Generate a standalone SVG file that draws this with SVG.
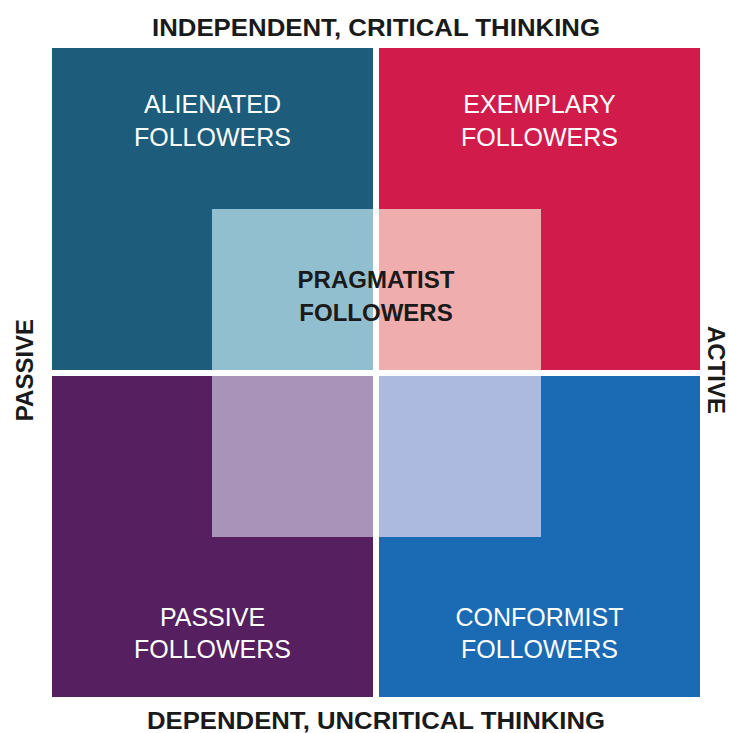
<svg xmlns="http://www.w3.org/2000/svg" width="729" height="733" viewBox="0 0 729 733">
<style>
.q{font-family:"Liberation Sans",Arial,sans-serif;font-size:25px;fill:#ffffff;text-anchor:middle}
.c{font-family:"Liberation Sans",Arial,sans-serif;font-size:24px;font-weight:bold;fill:#1a1a1a;text-anchor:middle}
.ax{font-family:"Liberation Sans",Arial,sans-serif;font-size:24px;font-weight:bold;fill:#1a1a1a;text-anchor:middle}
</style>
<rect width="729" height="733" fill="#ffffff"/>
<g id="alienated">
<rect x="52" y="48" width="321" height="322" fill="#1d5d7b"/>
<text class="q" x="212.5" y="113">ALIENATED</text>
<text class="q" x="212.5" y="146">FOLLOWERS</text>
</g>
<g id="exemplary">
<rect x="379" y="48" width="321" height="322" fill="#d11c4b"/>
<text class="q" x="539.5" y="113">EXEMPLARY</text>
<text class="q" x="539.5" y="146">FOLLOWERS</text>
</g>
<g id="passive">
<rect x="52" y="376" width="321" height="321" fill="#561f5f"/>
<text class="q" x="212.5" y="626">PASSIVE</text>
<text class="q" x="212.5" y="658">FOLLOWERS</text>
</g>
<g id="conformist">
<rect x="379" y="376" width="321" height="321" fill="#1b6ab4"/>
<text class="q" x="539.5" y="626">CONFORMIST</text>
<text class="q" x="539.5" y="658">FOLLOWERS</text>
</g>
<g id="pragmatist">
<rect x="212" y="209" width="161" height="161" fill="#92bfcf"/>
<rect x="379" y="209" width="162" height="161" fill="#efadad"/>
<rect x="212" y="376" width="161" height="161" fill="#a993b9"/>
<rect x="379" y="376" width="162" height="161" fill="#acbadf"/>
<text class="c" x="376" y="288">PRAGMATIST</text>
<text class="c" x="376" y="321">FOLLOWERS</text>
</g>
<g id="axes">
<text class="ax" x="376" y="36" textLength="448" lengthAdjust="spacingAndGlyphs">INDEPENDENT, CRITICAL THINKING</text>
<text class="ax" x="376" y="729" textLength="458" lengthAdjust="spacingAndGlyphs">DEPENDENT, UNCRITICAL THINKING</text>
<text class="ax" transform="translate(33,370) rotate(-90)" x="0" y="0">PASSIVE</text>
<text class="ax" transform="translate(708,370) rotate(90)" x="0" y="0">ACTIVE</text>
</g>
<g id="connectors"></g>
</svg>
